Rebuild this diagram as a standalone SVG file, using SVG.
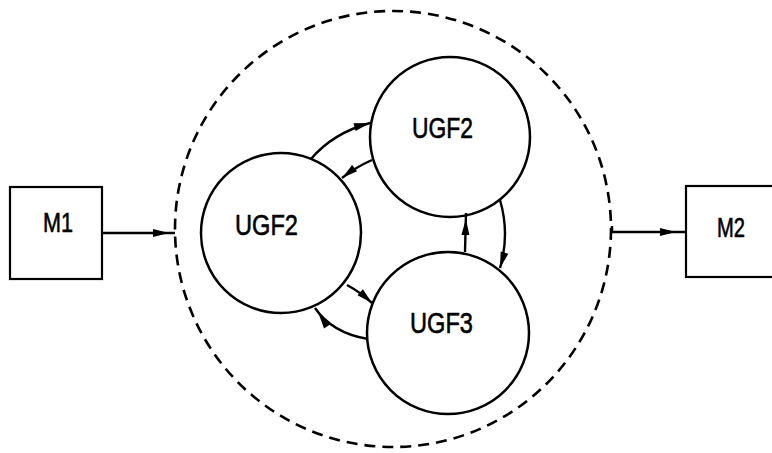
<svg xmlns="http://www.w3.org/2000/svg" width="772" height="453" viewBox="0 0 772 453">
<style>
.bg{fill:#ffffff}
.node{fill:#ffffff;stroke:#000;stroke-width:2.5}
.box{fill:#ffffff;stroke:#000;stroke-width:2.2}
.bound{fill:none;stroke:#000;stroke-width:2.6;stroke-dasharray:11 7}
.lbl{font-family:"Liberation Sans",Arial,sans-serif;fill:#000;stroke:#000;stroke-width:0.6}
.big{font-size:30px}
.mid{font-size:27px}
.con{fill:none;stroke:#000;stroke-width:2.4}
</style>
<defs>
<marker id="ah" markerUnits="userSpaceOnUse" markerWidth="18" markerHeight="9" refX="16" refY="4" orient="auto" overflow="visible">
<path d="M0,0 L16,4 L0,8 z" fill="#000"/>
</marker>
<marker id="ah2" markerUnits="userSpaceOnUse" markerWidth="18" markerHeight="9" refX="22" refY="4" orient="auto" overflow="visible">
<path d="M0,0 L16,4 L0,8 z" fill="#000"/>
</marker>
<marker id="ah3" markerUnits="userSpaceOnUse" markerWidth="18" markerHeight="9" refX="26" refY="4" orient="auto" overflow="visible">
<path d="M0,0 L16,4 L0,8 z" fill="#000"/>
</marker>
</defs>
<rect class="bg" x="0" y="0" width="772" height="453"/>
<g id="boundary">
<circle class="bound" cx="393" cy="229" r="218"/>
</g>
<g id="M1">
<rect class="box" x="10" y="187" width="92" height="92"/>
<text class="lbl mid" x="43" y="232" textLength="30" lengthAdjust="spacingAndGlyphs">M1</text>
</g>
<g id="M2">
<rect class="box" x="686" y="186" width="100" height="91"/>
<text class="lbl mid" x="717" y="237" textLength="28" lengthAdjust="spacingAndGlyphs">M2</text>
</g>
<g id="UGF2-left">
<circle class="node" cx="281" cy="233" r="80"/>
<text class="lbl big" x="235" y="235" textLength="63" lengthAdjust="spacingAndGlyphs">UGF2</text>
</g>
<g id="UGF2-top">
<circle class="node" cx="450" cy="137" r="80"/>
<text class="lbl big" x="412" y="138" textLength="61" lengthAdjust="spacingAndGlyphs">UGF2</text>
</g>
<g id="UGF3">
<circle class="node" cx="448" cy="333" r="81"/>
<text class="lbl big" x="410" y="333" textLength="63" lengthAdjust="spacingAndGlyphs">UGF3</text>
</g>
<g id="connectors">
<path class="con" d="M102,233 H175" marker-end="url(#ah2)"/>
<path class="con" d="M612,226 V232 H686" marker-end="url(#ah3)"/>
<path class="con" d="M311,159 Q333,133 370,123" marker-end="url(#ah)"/>
<path class="con" d="M372,160 Q356,167 342,178" marker-end="url(#ah)"/>
<path class="con" d="M465,252 L466,213" marker-end="url(#ah2)"/>
<path class="con" d="M500,200 Q510,234 500,268" marker-end="url(#ah)"/>
<path class="con" d="M347,285 Q360,292 372,303" marker-end="url(#ah)"/>
<path class="con" d="M368,339 Q332,333 315,308" marker-end="url(#ah2)"/>
</g>
</svg>
